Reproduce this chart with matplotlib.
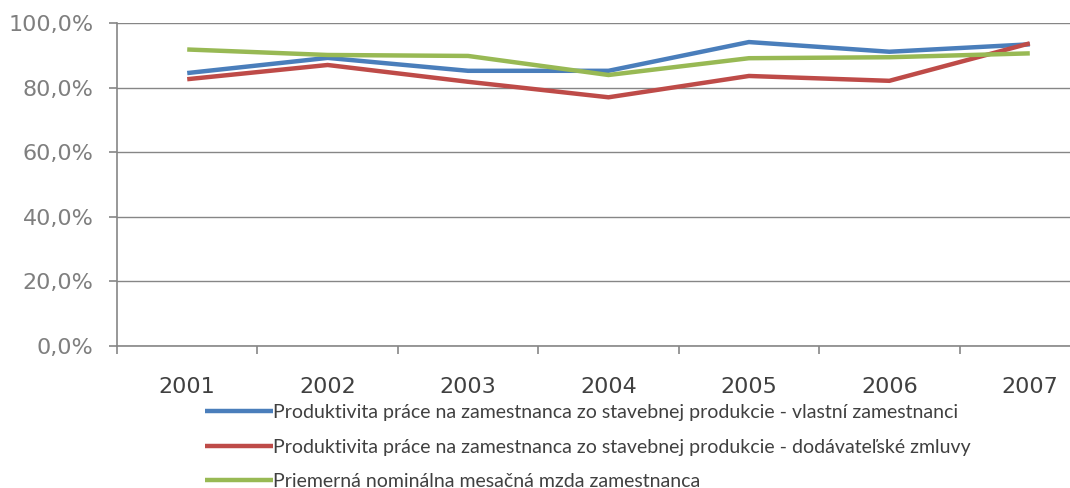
import matplotlib
matplotlib.use("Agg")
import matplotlib.pyplot as plt
from matplotlib.ticker import FixedLocator, FuncFormatter

years = ["2001", "2002", "2003", "2004", "2005", "2006", "2007"]
vlastni = [84.5, 89.2, 85.2, 85.2, 94.1, 91.1, 93.4]
dodavatelske = [82.6, 87.0, 81.8, 77.0, 83.6, 82.1, 93.7]
mzda = [91.8, 90.1, 89.8, 83.9, 89.1, 89.4, 90.6]
labels = [
    "Produktivita práce na zamestnanca zo stavebnej produkcie - vlastní zamestnanci",
    "Produktivita práce na zamestnanca zo stavebnej produkcie - dodávateľské zmluvy",
    "Priemerná nominálna mesačná mzda zamestnanca",
]
colors = ["#4a7ebb", "#be4b48", "#98b954"]
yticks = [0, 20, 40, 60, 80, 100]

fig = plt.figure(figsize=(10.7, 4.88), dpi=100)
ax = fig.add_axes([117/1070, 142/488, 983/1070, 323/488])

x = list(range(len(years)))
for vals, c, lab in zip([vlastni, dodavatelske, mzda], colors, labels):
    ax.plot(x, vals, color=c, lw=3.2, label=lab, solid_capstyle="butt", solid_joinstyle="miter")

ax.set_xlim(-0.5, len(years) - 0.5)
ax.set_ylim(0, 100)
ax.set_yticks(yticks)
ax.yaxis.set_major_formatter(FuncFormatter(lambda v, p: f"{v:.1f}%".replace(".", ",")))
ax.grid(axis="y", color="#868686", lw=1)
ax.set_axisbelow(True)
for s in ["top", "right"]:
    ax.spines[s].set_visible(False)
for s in ["left", "bottom"]:
    ax.spines[s].set_color("#868686")
    ax.spines[s].set_linewidth(1.2)

ax.set_xticks(x)
ax.set_xticklabels(years)
ax.tick_params(axis="x", which="major", length=0, pad=22, labelsize=16, labelcolor="#404040")
ax.xaxis.set_minor_locator(FixedLocator([i - 0.5 for i in range(len(years) + 1)]))
ax.tick_params(axis="x", which="minor", length=6, width=1.2, color="#868686", direction="out")
ax.tick_params(axis="y", length=6, width=1.2, color="#868686", labelsize=16, labelcolor="#7f7f7f", pad=11)

leg = fig.legend(loc="upper left", bbox_to_anchor=(205/1070, 1 - 404/488), frameon=False,
                 prop={"family": "Lato", "size": 14}, handlelength=3.5, handletextpad=0.0,
                 labelspacing=0.9, borderpad=0, borderaxespad=0)
for t in leg.get_texts():
    t.set_color("#404040")

fig.savefig("out.png", dpi=100)
